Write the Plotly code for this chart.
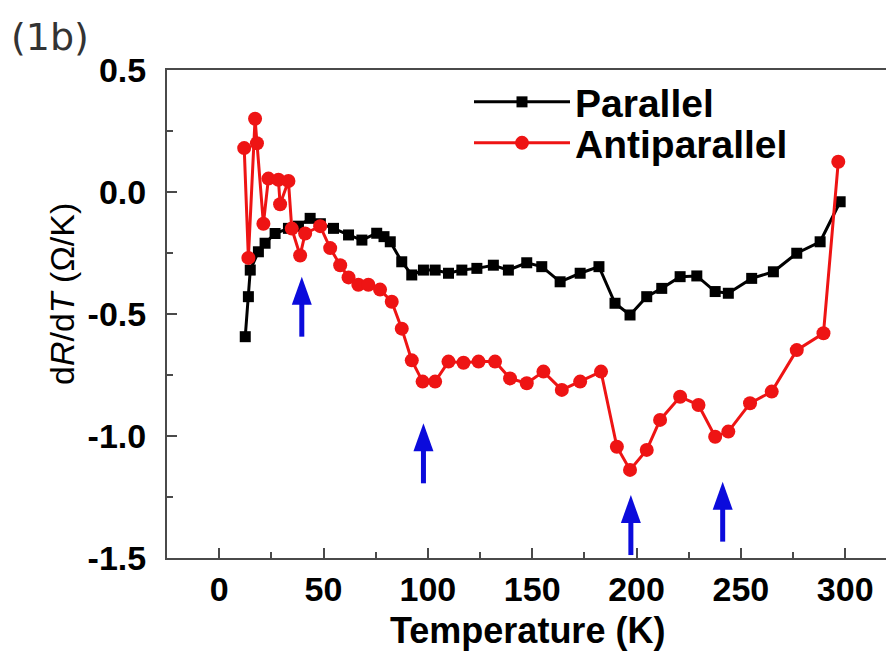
import plotly.graph_objects as go

# ---- data ----
par_T = [12.5, 14.0, 14.9, 18.8, 22.0, 26.8, 33.2, 38.0, 43.6, 48.5, 54.8, 62.0, 68.4,
         75.5, 79.0, 82.0, 87.5, 92.3, 97.9, 103.5, 109.9, 116.3, 123.5, 131.4, 138.6,
         147.4, 154.6, 163.4, 173.0, 182.0, 189.7, 196.9, 204.9, 212.1, 220.9, 228.9,
         237.7, 244.0, 255.2, 265.6, 276.8, 288.0, 297.6]
par_V = [-0.593, -0.429, -0.32, -0.245, -0.21, -0.17, -0.149, -0.14, -0.108, -0.13, -0.149,
         -0.176, -0.197, -0.169, -0.183, -0.204, -0.286, -0.34, -0.32, -0.32, -0.333, -0.32,
         -0.313, -0.30, -0.32, -0.29, -0.306, -0.368, -0.333, -0.306, -0.456, -0.504, -0.429,
         -0.395, -0.347, -0.344, -0.408, -0.415, -0.354, -0.327, -0.251, -0.204, -0.04]

anti_T = [12.0, 14.0, 17.2, 18.1, 21.2, 23.6, 28.4, 29.2, 33.2, 34.8, 38.8, 41.2, 48.4,
          53.2, 58.0, 62.0, 66.7, 71.5, 77.1, 82.7, 87.5, 92.3, 97.5, 103.5, 109.9, 117.1,
          124.3, 132.2, 139.4, 147.4, 155.4, 164.2, 173.0, 183.0, 190.6, 196.9, 204.9,
          211.3, 220.9, 229.7, 237.7, 244.0, 254.4, 264.8, 276.8, 289.6, 296.7]
anti_V = [0.18, -0.27, 0.30, 0.20, -0.13, 0.055, 0.05, -0.05, 0.045, -0.15, -0.26, -0.17,
          -0.14, -0.23, -0.30, -0.35, -0.38, -0.38, -0.40, -0.45, -0.56, -0.69, -0.777,
          -0.777, -0.695, -0.70, -0.695, -0.695, -0.764, -0.784, -0.736, -0.811, -0.777,
          -0.736, -1.044, -1.139, -1.057, -0.934, -0.839, -0.873, -1.003, -0.982, -0.866,
          -0.818, -0.648, -0.579, 0.124]

series_names = ["Parallel", "Antiparallel"]

x_tickvals = [0, 50, 100, 150, 200, 250, 300]
x_ticktext = ["0", "50", "100", "150", "200", "250", "300"]
y_tickvals = [-1.5, -1.0, -0.5, 0.0, 0.5]
y_ticktext = ["-1.5", "-1.0", "-0.5", "0.0", "0.5"]

# blue arrows: temperature and tip value
arrow_T = [39.6, 97.9, 197.3, 241.3]
arrow_tip = [-0.347, -0.948, -1.242, -1.187]

# ---- figure ----
FONT = "Arial, Liberation Sans, sans-serif"
BLUE = "#0b0bdc"
RED = "#ee1414"
AX = "#4a4a4a"

fig = go.Figure()
fig.add_trace(go.Scatter(
    x=par_T, y=par_V, name=series_names[0], mode="lines+markers", legend="legend",
    line=dict(color="black", width=3),
    marker=dict(symbol="square", size=11, color="black")))
fig.add_trace(go.Scatter(
    x=anti_T, y=anti_V, name=series_names[1], mode="lines+markers", legend="legend2",
    line=dict(color=RED, width=3),
    marker=dict(symbol="circle", size=14, color=RED)))

for xa, tip in zip(arrow_T, arrow_tip):
    fig.add_shape(type="line", xref="x", yref="y", xsizemode="pixel", ysizemode="pixel",
                  xanchor=xa, yanchor=tip, x0=0, x1=0, y0=-24, y1=-60,
                  line=dict(color=BLUE, width=5))
    fig.add_shape(type="path", xref="x", yref="y", xsizemode="pixel", ysizemode="pixel",
                  xanchor=xa, yanchor=tip, path="M0,0 L-10,-28 L10,-28 Z",
                  fillcolor=BLUE, line=dict(color=BLUE, width=0))

# the page body adds an 8px offset, so the figure is 8px smaller than the window
W, H = 886, 644
L, R, T, B = 159, 0, 62, 94
PW, PH = W - L - R, H - T - B


def px(xw):
    return (xw - 8 - L) / PW


def py(yw):
    return (H - B - (yw - 8)) / PH


legend_common = dict(xanchor="left", yanchor="middle", bgcolor="rgba(0,0,0,0)",
                     font=dict(size=39, family=FONT, weight="bold"), itemwidth=96)

fig.update_layout(
    width=W, height=H,
    margin=dict(l=L, r=R, t=T, b=B, autoexpand=False),
    paper_bgcolor="white", plot_bgcolor="white",
    font=dict(family=FONT, color="black"),
    showlegend=True,
    legend=dict(x=px(469), y=py(102), **legend_common),
    legend2=dict(x=px(469), y=py(143), **legend_common),
    xaxis=dict(range=[-25, 323.4], tickvals=x_tickvals, ticktext=x_ticktext,
               ticks="inside", ticklen=10, tickwidth=2, tickcolor=AX,
               minor=dict(dtick=25, tick0=0, ticks="inside", ticklen=6, tickwidth=2, tickcolor=AX),
               showline=True, linecolor=AX, linewidth=2, mirror=True,
               showgrid=False, zeroline=False, ticklabelstandoff=0, automargin=False,
               tickfont=dict(size=34, family=FONT, weight="bold")),
    yaxis=dict(range=[-1.5, 0.5], tickvals=y_tickvals, ticktext=y_ticktext,
               ticks="inside", ticklen=10, tickwidth=2, tickcolor=AX,
               minor=dict(dtick=0.25, tick0=0, ticks="inside", ticklen=6, tickwidth=2, tickcolor=AX),
               showline=True, linecolor=AX, linewidth=2, mirror=False,
               showgrid=False, zeroline=False, ticklabelstandoff=12, automargin=False,
               tickfont=dict(size=34, family=FONT, weight="bold")),
)

fig.add_annotation(text="Temperature (K)", xref="paper", yref="paper",
                   x=px(527), y=py(630), xanchor="center", yanchor="middle", showarrow=False,
                   font=dict(size=36, family=FONT, weight="bold", color="black"))
fig.add_annotation(text="d<i>R</i>/d<i>T</i> (Ω/K)", textangle=-90,
                   xref="paper", yref="paper", x=px(62), y=py(294),
                   xanchor="center", yanchor="middle", showarrow=False,
                   font=dict(size=34, family=FONT, color="black"))
fig.add_annotation(text="(1b)", xref="paper", yref="paper",
                   x=px(9), y=py(13), xanchor="left", yanchor="top",
                   showarrow=False, font=dict(size=38, family="DejaVu Sans", color="#333333"))

fig.write_html("out.html")
